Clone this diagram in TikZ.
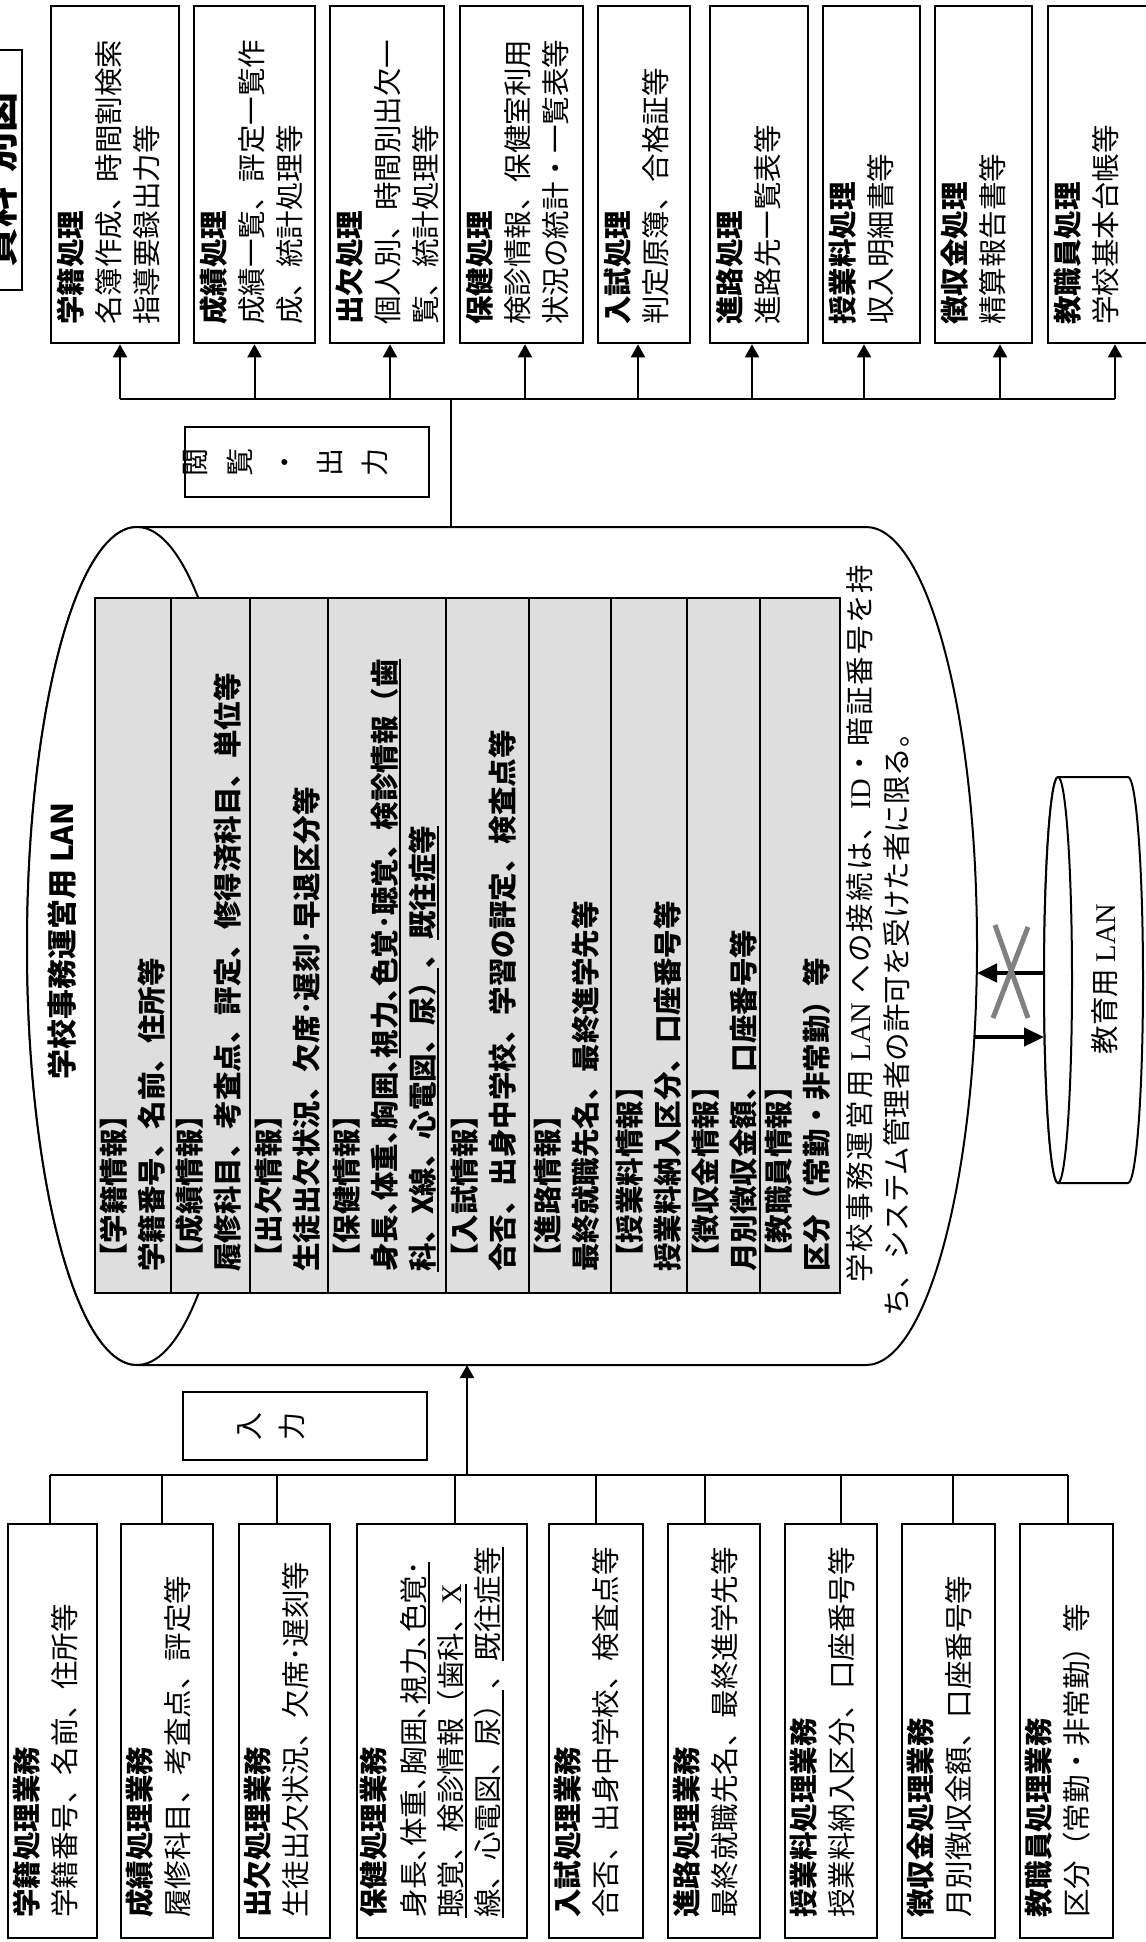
\documentclass[tikz,border=0pt]{standalone}
\usepackage{fontspec}
\newfontfamily\jp{Noto Sans CJK JP}
\newfontfamily\lsr{Liberation Serif}
\usetikzlibrary{arrows.meta}
\newcommand\fsz{\fontsize{28.5pt}{34pt}\selectfont}
\newcommand\uln[1]{\setbox0\hbox{#1}\rlap{\rule[-5pt]{\wd0}{1.6pt}}\box0}
\makeatletter
\newcommand\spreadto[2]{\makebox[#1][s]{\@tfor\spr@x:=#2\do{\spr@x\hfil}\unskip}}
\makeatother
\tikzset{
 bx/.style={draw, line width=2.6pt, fill=white, inner sep=0pt},
 col/.style={draw, line width=2pt, fill=black!13, inner sep=0pt, minimum height=695pt},
 cyl/.style={draw, line width=2pt, fill=white},
 conn/.style={line width=2pt},
 arr/.style={line width=2pt, -{Triangle[length=13pt,width=14pt]}},
 thk/.style={line width=4.5pt, -{Triangle[length=20pt,width=18pt]}},
 ln/.style={rotate=90, anchor=west, inner sep=0pt, text height=25pt, text depth=3.5pt, font=\jp\fsz},
 hd/.style={ln, font=\jp\bfseries\fsz},
}
\begin{document}
\begin{tikzpicture}[x=1pt,y=-1pt]
\useasboundingbox (0,0) rectangle (1145,1942);
\fill[white] (0,0) rectangle (1145,1942);

% ---------- big cylinder ----------
\draw[cyl] (137,527) -- (866,527) arc[start angle=90,end angle=-90,x radius=111pt,y radius=419pt]
  -- (137,1365) arc[start angle=270,end angle=90,x radius=110pt,y radius=419pt] -- cycle;
\draw[cyl] (137,946) ellipse [x radius=110pt, y radius=419pt];
\node[rotate=90, inner sep=0pt, font=\jp\bfseries\fontsize{30pt}{30pt}\selectfont] (title) at (62,941) {学校事務運営用 LAN};

% table columns
\node[col, minimum width=76pt] (c1) at (133,945.5) {};
\node[col, minimum width=79pt] (c2) at (210.5,945.5) {};
\node[col, minimum width=78pt] (c3) at (289,945.5) {};
\node[col, minimum width=118pt] (c4) at (387,945.5) {};
\node[col, minimum width=83pt] (c5) at (487.5,945.5) {};
\node[col, minimum width=82pt] (c6) at (570,945.5) {};
\node[col, minimum width=76pt] (c7) at (649,945.5) {};
\node[col, minimum width=73pt] (c8) at (723.5,945.5) {};
\node[col, minimum width=80pt] (c9) at (800,945.5) {};

\node[hd] (c1a) at (114,1272) {【学籍情報】};
\node[hd] (c1b) at (152,1272) {学籍番号、名前、住所等};
\node[hd] (c2a) at (190,1272) {【成績情報】};
\node[hd] (c2b) at (228,1272) {履修科目、考査点、評定、修得済科目、単位等};
\node[hd] (c3a) at (269,1272) {【出欠情報】};
\node[hd] (c3b) at (307,1272) {生徒出欠状況、欠席･遅刻･早退区分等};
\node[hd] (c4a) at (347,1272) {【保健情報】};
\node[hd] (c4b) at (385,1272) {身長､体重､胸囲､\uln{視力､色覚･聴覚、検診情報（歯}};
\node[hd] (c4c) at (423,1272) {\uln{科、X線、心電図、尿）}、\uln{既往症等}};
\node[hd] (c5a) at (465,1272) {【入試情報】};
\node[hd] (c5b) at (503,1272) {合否、出身中学校、学習の評定、検査点等};
\node[hd] (c6a) at (548,1272) {【進路情報】};
\node[hd] (c6b) at (586,1272) {最終就職先名、最終進学先等};
\node[hd] (c7a) at (630,1272) {【授業料情報】};
\node[hd] (c7b) at (668,1272) {授業料納入区分、口座番号等};
\node[hd] (c8a) at (706,1272) {【徴収金情報】};
\node[hd] (c8b) at (744,1272) {月別徴収金額、口座番号等};
\node[hd] (c9a) at (779,1272) {【教職員情報】};
\node[hd] (c9b) at (817,1272) {区分（常勤・非常勤）等};

\node[ln] (note1) at (860,1283) {\spreadto{718pt}{学校事務運営用{{\lsr\ LAN\ }}への接続は、{{\lsr ID}}・暗証番号を持}};
\node[ln] (note2) at (897,1317) {ち、システム管理者の許可を受けた者に限る。};

% ---------- small cylinder ----------
\draw[cyl] (1058,777) -- (1128,777) arc[start angle=90,end angle=-90,x radius=15pt,y radius=203pt]
  -- (1058,1183) arc[start angle=270,end angle=90,x radius=14pt,y radius=203pt] -- cycle;
\draw[cyl] (1058,980) ellipse [x radius=14pt, y radius=203pt];
\node[rotate=90, inner sep=0pt, font=\jp\fsz] (lant) at (1105,979) {教育用 {\lsr LAN}};

\coordinate (bR1) at (977,973);
\coordinate (bR2) at (974,1037);
\coordinate (sL1) at (1044,973);
\coordinate (sL2) at (1044,1037);
\draw[thk] (sL1) -- (bR1);
\draw[thk] (bR2) -- (sL2);
\draw[line width=5pt, black!50] (995,925) -- (1028,1018) (1028,927) -- (993,1018);

% ---------- output boxes ----------
\node[bx, minimum width=128pt, minimum height=337pt] (out1) at (115,174.5) {};
\node[bx, minimum width=121pt, minimum height=337pt] (out2) at (254.5,174.5) {};
\node[bx, minimum width=114pt, minimum height=337pt] (out3) at (387,174.5) {};
\node[bx, minimum width=123pt, minimum height=337pt] (out4) at (521.5,174.5) {};
\node[bx, minimum width=92pt, minimum height=337pt] (out5) at (644,174.5) {};
\node[bx, minimum width=98pt, minimum height=337pt] (out6) at (759,174.5) {};
\node[bx, minimum width=97pt, minimum height=337pt] (out7) at (871.5,174.5) {};
\node[bx, minimum width=97pt, minimum height=337pt] (out8) at (983.5,174.5) {};
\node[bx, minimum width=110pt, minimum height=337pt] (out9) at (1103,174.5) {};

\node[hd] (o1a) at (71,325) {学籍処理};
\node[ln] (o1b) at (109,325) {名簿作成、時間割検索};
\node[ln] (o1c) at (147,325) {指導要録出力等};
\node[hd] (o2a) at (214,325) {成績処理};
\node[ln] (o2b) at (252,325) {成績一覧、評定一覧作};
\node[ln] (o2c) at (290,325) {成、統計処理等};
\node[hd] (o3a) at (350,325) {出欠処理};
\node[ln] (o3b) at (388,325) {個人別、時間別出欠一};
\node[ln] (o3c) at (426,325) {覧、統計処理等};
\node[hd] (o4a) at (480,325) {保健処理};
\node[ln] (o4b) at (518,325) {検診情報、保健室利用};
\node[ln] (o4c) at (556,325) {状況の統計・一覧表等};
\node[hd] (o5a) at (618,325) {入試処理};
\node[ln] (o5b) at (656,325) {判定原簿、合格証等};
\node[hd] (o6a) at (730,325) {進路処理};
\node[ln] (o6b) at (768,325) {進路先一覧表等};
\node[hd] (o7a) at (843,325) {授業料処理};
\node[ln] (o7b) at (881,325) {収入明細書等};
\node[hd] (o8a) at (955,325) {徴収金処理};
\node[ln] (o8b) at (993,325) {精算報告書等};
\node[hd] (o9a) at (1068,325) {教職員処理};
\node[ln] (o9b) at (1106,325) {学校基本台帳等};

% output bus
\node[bx, line width=2.4pt, minimum width=244pt, minimum height=70pt] (view) at (307,462) {};
\node[rotate=90, align=center, inner sep=0pt, font=\jp\fontsize{28pt}{45pt}\selectfont] (viewt) at (286,462) {閲\\覧\\・\\出\\力};
\coordinate (cylTop) at (451,527);
\coordinate (obus) at (0,399);
\coordinate (p1) at ([xshift=5pt]out1.south);
\coordinate (p2) at (out2.south);
\coordinate (p3) at ([xshift=3pt]out3.south);
\coordinate (p4) at ([xshift=3.5pt]out4.south);
\coordinate (p5) at ([xshift=-6pt]out5.south);
\coordinate (p6) at ([xshift=-7pt]out6.south);
\coordinate (p7) at ([xshift=-7.5pt]out7.south);
\coordinate (p8) at ([xshift=16.5pt]out8.south);
\coordinate (p9) at ([xshift=12pt]out9.south);
\draw[conn] (cylTop) -- (cylTop |- obus);
\draw[conn] (p1 |- obus) -- (p9 |- obus);
\foreach \k in {1,...,9} \draw[arr] (p\k |- obus) -- (p\k);

% ---------- input boxes ----------
\node[bx, minimum width=89pt, minimum height=414pt] (in1) at (52.5,1731) {};
\node[bx, minimum width=92pt, minimum height=414pt] (in2) at (167,1731) {};
\node[bx, minimum width=91pt, minimum height=414pt] (in3) at (284.5,1731) {};
\node[bx, minimum width=170pt, minimum height=414pt] (in4) at (442,1731) {};
\node[bx, minimum width=94pt, minimum height=414pt] (in5) at (596,1731) {};
\node[bx, minimum width=92pt, minimum height=414pt] (in6) at (714,1731) {};
\node[bx, minimum width=92pt, minimum height=414pt] (in7) at (831,1731) {};
\node[bx, minimum width=93pt, minimum height=414pt] (in8) at (948.5,1731) {};
\node[bx, minimum width=93pt, minimum height=414pt] (in9) at (1066.5,1731) {};

\node[hd] (i1a) at (27,1918) {学籍処理業務};
\node[ln] (i1b) at (65,1918) {学籍番号、名前、住所等};
\node[hd] (i2a) at (140,1918) {成績処理業務};
\node[ln] (i2b) at (178,1918) {履修科目、考査点、評定等};
\node[hd] (i3a) at (258,1918) {出欠処理業務};
\node[ln] (i3b) at (296,1918) {生徒出欠状況、欠席･遅刻等};
\node[hd] (i4a) at (374,1918) {保健処理業務};
\node[ln] (i4b) at (414,1918) {身長､体重､胸囲､\uln{視力､色覚･}};
\node[ln] (i4c) at (451,1918) {\uln{聴覚、検診情報（歯科、{\lsr X}}};
\node[ln] (i4d) at (488,1918) {\uln{線、心電図、尿）}、\uln{既往症等}};
\node[hd] (i5a) at (568,1918) {入試処理業務};
\node[ln] (i5b) at (606,1918) {合否、出身中学校、検査点等};
\node[hd] (i6a) at (687,1918) {進路処理業務};
\node[ln] (i6b) at (725,1918) {最終就職先名、最終進学先等};
\node[hd] (i7a) at (804,1918) {授業料処理業務};
\node[ln] (i7b) at (842,1918) {授業料納入区分、口座番号等};
\node[hd] (i8a) at (921,1918) {徴収金処理業務};
\node[ln] (i8b) at (959,1918) {月別徴収金額、口座番号等};
\node[hd] (i9a) at (1039,1918) {教職員処理業務};
\node[ln] (i9b) at (1077,1918) {区分（常勤・非常勤）等};

\node[bx, line width=2.4pt, minimum width=244pt, minimum height=68pt] (inp) at (305,1426) {};
\node[rotate=90, align=center, inner sep=0pt, font=\jp\fontsize{28pt}{43pt}\selectfont] (inpt) at (271.5,1426) {入\\力};

\coordinate (cylBot) at (467,1365);
\coordinate (ibus) at (0,1475);
\coordinate (q1) at ([xshift=-2.5pt]in1.north);
\coordinate (q2) at ([xshift=-5pt]in2.north);
\coordinate (q3) at ([xshift=-8pt]in3.north);
\coordinate (q4) at ([xshift=13pt]in4.north);
\coordinate (q5) at (in5.north);
\coordinate (q6) at ([xshift=-9pt]in6.north);
\coordinate (q7) at ([xshift=10pt]in7.north);
\coordinate (q8) at ([xshift=4.5pt]in8.north);
\coordinate (q9) at ([xshift=1.5pt]in9.north);
\draw[conn] (q1 |- ibus) -- (q9 |- ibus);
\foreach \k in {1,...,9} \draw[conn] (q\k) -- (q\k |- ibus);
\draw[arr] (cylBot |- ibus) -- (cylBot);

% ---------- label box ----------
\node[bx, minimum width=52pt, minimum height=240pt] (bz) at (-4,170) {};
\node[rotate=90, inner sep=0pt, font=\jp\bfseries\fontsize{40pt}{40pt}\selectfont] (bzt) at (-2,180) {資料\hspace{0.4em}別図};
\end{tikzpicture}
\end{document}
